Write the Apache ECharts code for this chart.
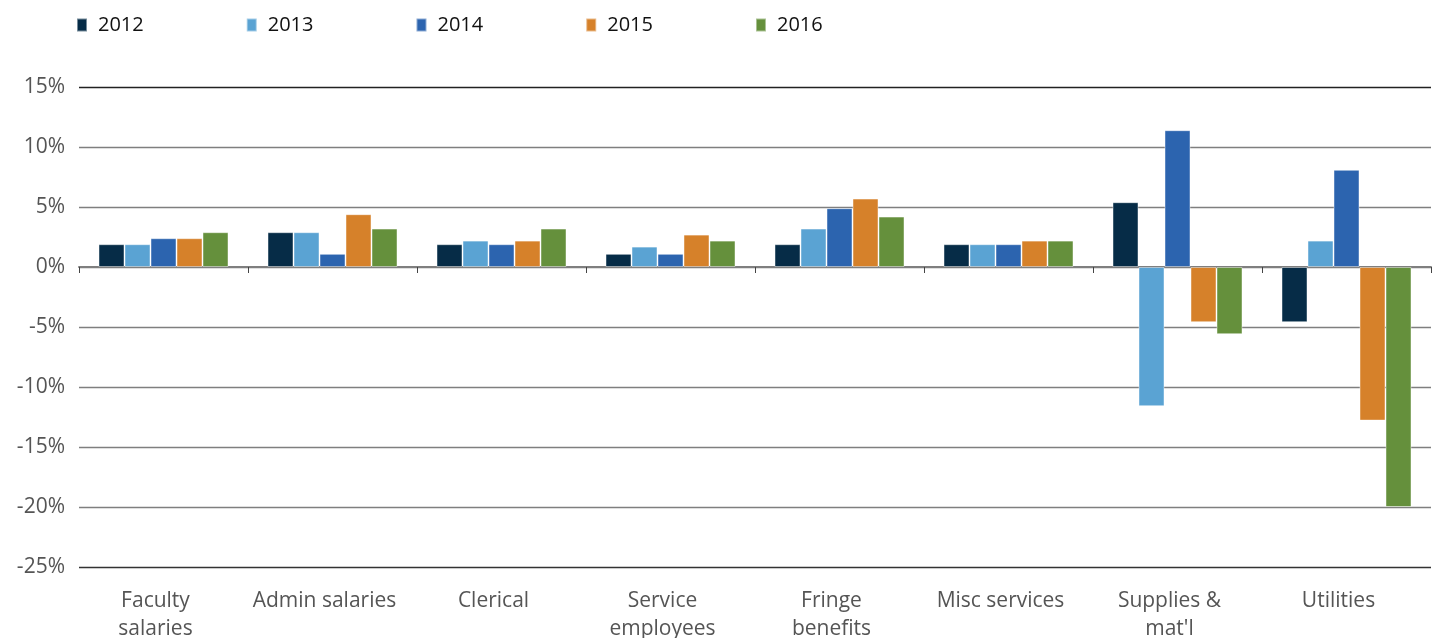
<!DOCTYPE html>
<html>
<head>
<meta charset="utf-8">
<script src="https://cdn.jsdelivr.net/npm/echarts@6/dist/echarts.min.js"></script>
<style>
  html, body { margin: 0; padding: 0; background: #fff; }
  #chart { width: 1447px; height: 638px; }
</style>
</head>
<body>
<div id="chart"></div>
<script>
// categories and yearly values (% change)
var categories = ['Faculty\nsalaries', 'Admin salaries', 'Clerical', 'Service\nemployees',
    'Fringe\nbenefits', 'Misc services', 'Supplies &\nmat\'l', 'Utilities']
var years = ['2012', '2013', '2014', '2015', '2016']
var colors = ['#062c47', '#5aa3d3', '#2c64af', '#d6812a', '#65903c']

var v2012 = [1.9, 2.9, 1.9, 1.1, 1.9, 1.9, 5.4, -4.6]
var v2013 = [1.9, 2.9, 2.2, 1.7, 3.2, 1.9, -11.6, 2.2]
var v2014 = [2.4, 1.1, 1.9, 1.1, 4.9, 1.9, 11.4, 8.1]
var v2015 = [2.4, 4.4, 2.2, 2.7, 5.7, 2.2, -4.6, -12.8]
var v2016 = [2.9, 3.2, 3.2, 2.2, 4.2, 2.2, -5.6, -20]
var allValues = [v2012, v2013, v2014, v2015, v2016]

var fontName = '"Open Sans", Lato, sans-serif'

var chart = echarts.init(document.getElementById('chart'))

var series = []
for (var i = 0; i < years.length; i++) {
    series.push({
        name: years[i],
        type: 'bar',
        xAxisIndex: 0,
        data: allValues[i],
        barWidth: 26,
        barGap: '0%',
        itemStyle: {
            color: colors[i],
            borderColor: 'rgba(255,255,255,0.45)',
            borderWidth: 1,
        },
        animation: false,
    })
}

var option = {
    color: colors,
    legend: {
        left: 71,
        top: 10,
        itemWidth: 10,
        itemHeight: 13,
        itemGap: 102,
        icon: 'rect',
        textStyle: {
            fontFamily: fontName,
            fontSize: 20,
            color: '#111',
            padding: [0, 0, 0, 6],
        },
        data: years,
    },
    grid: {
        left: 79,
        right: 16,
        top: 87,
        bottom: 71,
        outerBoundsMode: 'none',
    },
    xAxis: [
        {
            // zero line with boundary ticks
            type: 'category',
            data: categories,
            position: 'bottom',
            axisLine: { onZero: true, lineStyle: { color: '#7f7f7f', width: 2 } },
            axisTick: { show: true, length: 6, lineStyle: { color: '#444', width: 1 } },
            axisLabel: { show: false },
        },
        {
            // labels at the bottom of the plot
            type: 'category',
            data: categories,
            position: 'bottom',
            axisLine: { show: false, onZero: false },
            axisTick: { show: false },
            axisLabel: {
                interval: 0,
                margin: 20,
                padding: [0, 16, 0, 0],
                fontFamily: fontName,
                fontSize: 21,
                lineHeight: 28,
                color: '#555',
            },
        },
    ],
    yAxis: {
        type: 'value',
        min: -25,
        max: 15,
        interval: 5,
        axisLine: { show: false },
        axisTick: { show: false },
        axisLabel: {
            formatter: '{value}%',
            margin: 14,
            fontFamily: fontName,
            fontSize: 21,
            color: '#555',
        },
        splitLine: {
            lineStyle: {
                color: ['#333', '#7f7f7f', '#7f7f7f', '#7f7f7f', '#7f7f7f', '#7f7f7f', '#7f7f7f', '#7f7f7f', '#222'],
                width: 1.3,
            },
        },
    },
    series: series,
}

chart.setOption(option)
</script>
</body>
</html>
